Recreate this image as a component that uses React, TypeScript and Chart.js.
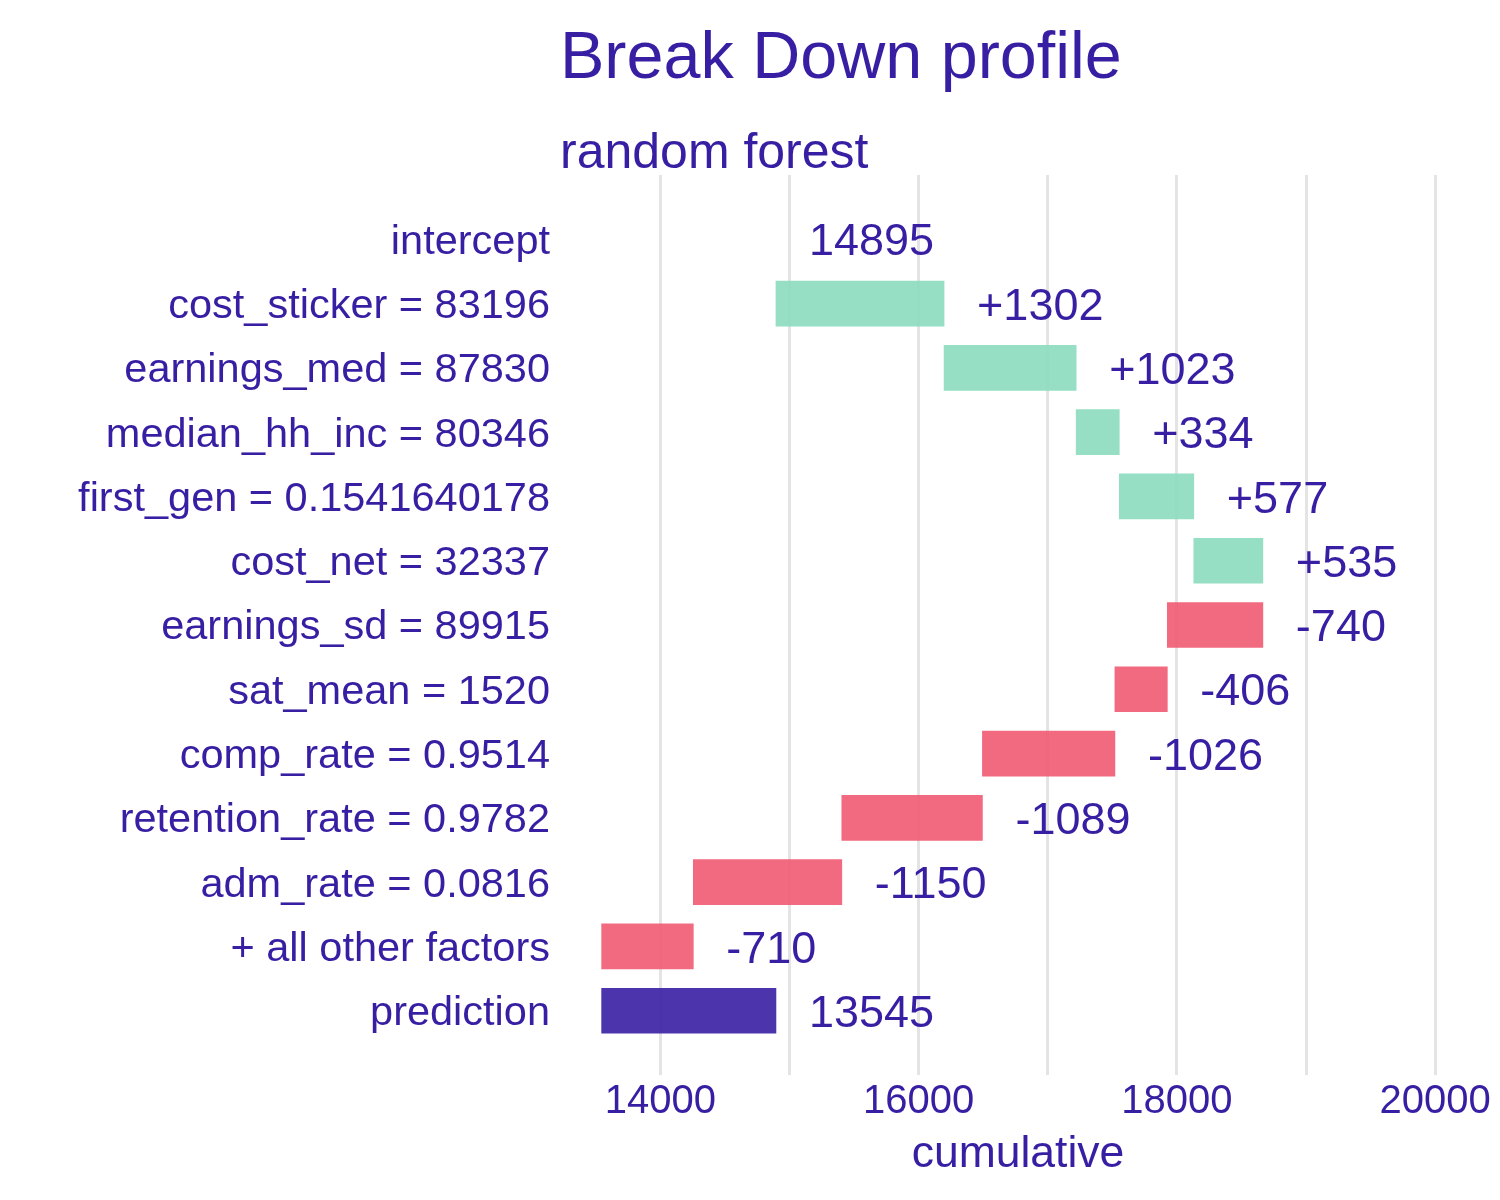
import React, { useEffect, useRef } from 'react';
import { Chart, registerables } from 'chart.js';

Chart.register(...registerables);

const TITLE = 'Break Down profile';
const SUBTITLE = 'random forest';
const X_TITLE = 'cumulative';

const categories = [
  'intercept',
  'cost_sticker = 83196',
  'earnings_med = 87830',
  'median_hh_inc = 80346',
  'first_gen = 0.1541640178',
  'cost_net = 32337',
  'earnings_sd = 89915',
  'sat_mean = 1520',
  'comp_rate = 0.9514',
  'retention_rate = 0.9782',
  'adm_rate = 0.0816',
  '+ all other factors',
  'prediction',
];

const intercept = 14895;
const contributions = [1302, 1023, 334, 577, 535, -740, -406, -1026, -1089, -1150, -710];
const prediction = 13545;

const xTickLabels = [14000, 16000, 18000, 20000];
const xGridValues = [14000, 15000, 16000, 17000, 18000, 19000, 20000];
const xMin = 13300;
const xMax = 20425;

const TEXT = '#371ea3';
const POS = 'rgba(139,220,190,0.9)';
const NEG = 'rgba(240,90,113,0.9)';
const PRED = 'rgba(55,30,163,0.9)';
const FONT = '"Liberation Sans", Arial, Helvetica, sans-serif';

export default function App() {
  const ref = useRef<HTMLCanvasElement | null>(null);

  useEffect(() => {
    document.body.style.margin = '0';
    const canvas = ref.current;
    if (!canvas) return;

    const bars: { x: [number, number]; y: number }[] = [];
    const colors: string[] = [];
    const valueLabels: { end: number; row: number; text: string }[] = [
      { end: intercept, row: 0, text: String(intercept) },
    ];
    let cum = intercept;
    contributions.forEach((c, k) => {
      const s = cum;
      cum += c;
      bars.push({ x: [s, cum], y: k + 1 });
      colors.push(c >= 0 ? POS : NEG);
      valueLabels.push({ end: Math.max(s, cum), row: k + 1, text: (c >= 0 ? '+' : '') + c });
    });
    const lastRow = categories.length - 1;
    bars.push({ x: [prediction, intercept], y: lastRow });
    colors.push(PRED);
    valueLabels.push({ end: Math.max(prediction, intercept), row: lastRow, text: String(prediction) });

    const titlePlugin = {
      id: 'titles',
      afterDraw(chart: any) {
        const ctx = chart.ctx;
        const area = chart.chartArea;
        const left = area.left - 10;
        ctx.save();
        ctx.fillStyle = TEXT;
        ctx.textAlign = 'left';
        ctx.textBaseline = 'alphabetic';
        ctx.font = `66.5px ${FONT}`;
        ctx.fillText(TITLE, left, 78);
        ctx.font = `50px ${FONT}`;
        ctx.fillText(SUBTITLE, left, 168);
        ctx.textAlign = 'center';
        ctx.font = `44.5px ${FONT}`;
        ctx.fillText(X_TITLE, (area.left + area.right) / 2 - 12, 1167);
        ctx.restore();
      },
    };

    const valuePlugin = {
      id: 'valueLabels',
      afterDatasetsDraw(chart: any) {
        const ctx = chart.ctx;
        const xs = chart.scales.x;
        const ys = chart.scales.y;
        const size = 45;
        ctx.save();
        ctx.fillStyle = TEXT;
        ctx.font = `${size}px ${FONT}`;
        ctx.textAlign = 'left';
        ctx.textBaseline = 'alphabetic';
        valueLabels.forEach((l) => {
          const px = xs.getPixelForValue(l.end) + 33;
          const py = ys.getPixelForValue(l.row) + size * 0.358;
          ctx.fillText(l.text, px, py);
        });
        ctx.restore();
      },
    };

    const chart = new Chart(canvas, {
      type: 'bar',
      data: {
        datasets: [
          {
            data: bars as any,
            backgroundColor: colors,
            borderWidth: 0,
            barThickness: 45,
          },
        ],
      },
      options: {
        indexAxis: 'y',
        animation: false,
        responsive: false,
        layout: { padding: { top: 175, right: 10, bottom: 0, left: 0 } },
        plugins: { legend: { display: false }, tooltip: { enabled: false } },
        scales: {
          x: {
            type: 'linear',
            min: xMin,
            max: xMax,
            afterBuildTicks: (s: any) => {
              s.ticks = xGridValues.map((v) => ({ value: v }));
            },
            afterFit: (s: any) => {
              s.height = 125;
            },
            ticks: {
              autoSkip: false,
              maxRotation: 0,
              padding: 3,
              color: TEXT,
              font: { family: FONT, size: 40 },
              callback: (v: any) => (xTickLabels.includes(Number(v)) ? String(v) : ''),
            },
            grid: { color: '#e4e4e4', lineWidth: 3, drawTicks: false },
            border: { display: false },
            title: { display: false },
          },
          y: {
            type: 'linear',
            reverse: true,
            offset: false,
            min: -1,
            max: categories.length,
            afterBuildTicks: (s: any) => {
              s.ticks = categories.map((_, i) => ({ value: i }));
            },
            afterFit: (s: any) => {
              s.width = 570;
            },
            ticks: {
              autoSkip: false,
              padding: 20,
              labelOffset: 3,
              color: TEXT,
              font: { family: FONT, size: 41.5 },
              callback: (v: any) => categories[Number(v)] ?? '',
            },
            grid: { display: false, drawTicks: false },
            border: { display: false },
          },
        },
      } as any,
      plugins: [titlePlugin, valuePlugin],
    });

    return () => chart.destroy();
  }, []);

  return (
    <div style={{ width: 1500, height: 1200 }}>
      <canvas ref={ref} width={1500} height={1200} style={{ display: 'block' }} />
    </div>
  );
}
